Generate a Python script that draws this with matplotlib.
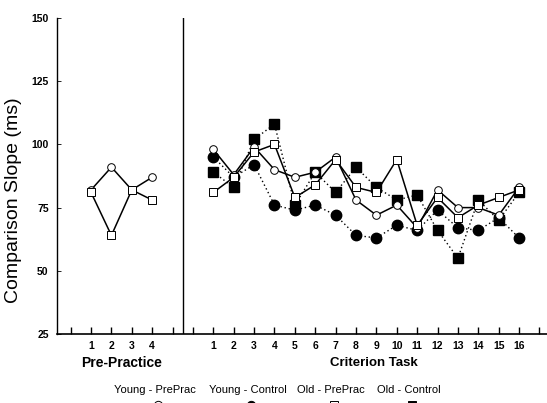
import matplotlib
matplotlib.use('Agg')
import matplotlib.pyplot as plt
import matplotlib.transforms as mtransforms
from matplotlib.lines import Line2D

plt.rcParams['font.family'] = ['Liberation Sans', 'DejaVu Sans']

# trials
pre_trials = [1, 2, 3, 4]
crit_trials = list(range(1, 17))

# pre-practice phase (only the PrePrac groups)
young_prep_pre = [82, 91, 82, 87]
old_prep_pre = [81, 64, 82, 78]

# criterion task
young_prep = [98, 88, 99, 90, 87, 89, 95, 78, 72, 76, 67, 82, 75, 75, 72, 83]
young_ctrl = [95, 87, 92, 76, 74, 76, 72, 64, 63, 68, 66, 74, 67, 66, 71, 63]
old_prep = [81, 87, 97, 100, 79, 84, 94, 83, 81, 94, 68, 79, 71, 76, 79, 82]
old_ctrl = [89, 83, 102, 108, 76, 89, 81, 91, 83, 78, 80, 66, 55, 78, 70, 81]

legend_labels = ['Young - PrePrac', 'Young - Control', 'Old - PrePrac', 'Old - Control']

W, H = 547, 403
fig = plt.figure(figsize=(W / 100, H / 100), dpi=100)
ax = fig.add_axes([57 / W, 69 / H, 490 / W, 316 / H])

offset = 6  # criterion trials sit after the pre-practice block
crit_x = [t + offset for t in crit_trials]

open_kw = dict(color='black', lw=1.1, markerfacecolor='white', markeredgecolor='black',
               markeredgewidth=0.7, markersize=5.5)
fill_kw = dict(color='black', lw=1.0, ls=(0, (1, 2)), markerfacecolor='black',
               markeredgecolor='black')

ax.plot(pre_trials, young_prep_pre, marker='o', **open_kw)
ax.plot(pre_trials, old_prep_pre, marker='s', **open_kw)

ax.plot(crit_x, young_ctrl, marker='o', markersize=7.5, **fill_kw)
ax.plot(crit_x, old_ctrl, marker='s', markersize=6.5, **fill_kw)
ax.plot(crit_x, young_prep, marker='o', **open_kw)
ax.plot(crit_x, old_prep, marker='s', **open_kw)

ax.axvline(5.5, color='black', lw=1.0)

ax.set_xlim(-0.67, 23.37)
ax.set_ylim(25, 150)
for s in ['top', 'right']:
    ax.spines[s].set_visible(False)
ax.spines['left'].set_linewidth(1.0)
ax.spines['bottom'].set_linewidth(1.2)

xt = list(range(0, 24))
xl = []
for p in xt:
    if 1 <= p <= 4:
        xl.append(str(p))
    elif offset + 1 <= p <= offset + 16:
        xl.append(str(p - offset))
    else:
        xl.append('')
ax.set_xticks(xt)
ax.set_xticklabels(xl)
ax.set_yticks([25, 50, 75, 100, 125, 150])
ax.tick_params(axis='x', direction='in', length=5, width=1, pad=5, labelsize=7.5)
ax.tick_params(axis='y', direction='in', length=3, width=0.6, pad=6, labelsize=7.5)
for lbl in ax.get_xticklabels() + ax.get_yticklabels():
    lbl.set_fontweight('bold')

ax.set_ylabel('Comparison Slope (ms)', fontsize=14)
ax.yaxis.set_label_coords(-0.071, 0.424)

trans = mtransforms.blended_transform_factory(ax.transData, ax.transAxes)
ax.text(2.5, -0.092, 'Pre-Practice', transform=trans, ha='center', va='center',
        fontsize=10, fontweight='bold')
ax.text(14.9, -0.092, 'Criterion Task', transform=trans, ha='center', va='center',
        fontsize=9.5, fontweight='bold')

# legend: labels with the marker keys underneath (cut by the page edge)
leg_x = [155, 248, 331, 409]
leg_mark = [('o', 'white'), ('o', 'black'), ('s', 'white'), ('s', 'black')]
for lab, x, (m, fc) in zip(legend_labels, leg_x, leg_mark):
    fig.text(x / W, 1 - 390 / H, lab, ha='center', va='center', fontsize=8)
    fig.add_artist(Line2D([x / W + 0.005], [-0.004], marker=m, markersize=6,
                          markerfacecolor=fc, markeredgecolor='black',
                          markeredgewidth=0.7, transform=fig.transFigure))

fig.savefig('out.png', dpi=100)
